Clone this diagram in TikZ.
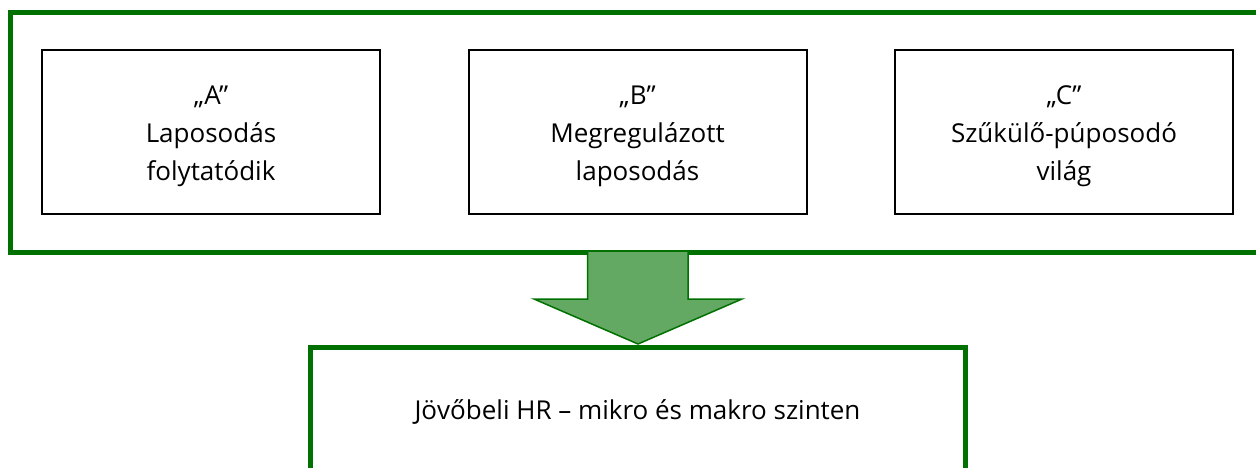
\documentclass[tikz,border=0pt]{standalone}
\usepackage{fontspec}
\setmainfont{Open Sans}
\definecolor{dgreen}{RGB}{0,112,0}
\definecolor{lgreen}{RGB}{99,168,99}
\begin{document}
\begin{tikzpicture}[x=1pt,y=-1pt,
  outerbox/.style={draw=dgreen,line width=5pt},
  scenario/.style={draw=black,line width=2pt,minimum width=338pt,minimum height=164pt,inner sep=0pt},
  scentext/.style={align=center,font=\fontsize{26}{38}\selectfont,inner sep=0pt},
  bigarrow/.style={draw=dgreen,line width=1.5pt,fill=lgreen,line join=miter}]
\useasboundingbox (0,0) rectangle (1256,468);
\draw[outerbox] (10,13) rectangle (1275,252);
\node[scenario] (a) at (211,132) {};
\node[scenario] (b) at (637.5,132) {};
\node[scenario] (c) at (1064,132) {};
\node[scentext] (at) at ([yshift=-4pt]a.center) {„A”\\Laposodás\\folytatódik};
\node[scentext] (bt) at ([yshift=-4pt]b.center) {„B”\\Megregulázott\\laposodás};
\node[scentext] (ct) at ([yshift=-4pt]c.center) {„C”\\Szűkülő-púposodó\\világ};
\draw[outerbox] (310,500) -- (310,347.5) -- (965.5,347.5) -- (965.5,500);
\node[font=\fontsize{26}{38}\selectfont] (d) at (637.5,412) {Jövőbeli HR – mikro és makro szinten};
\draw[bigarrow] (587.5,252) -- (587.5,299) -- (534,299) -- (638,344) -- (742,299) -- (688,299) -- (688,252);
\end{tikzpicture}
\end{document}
